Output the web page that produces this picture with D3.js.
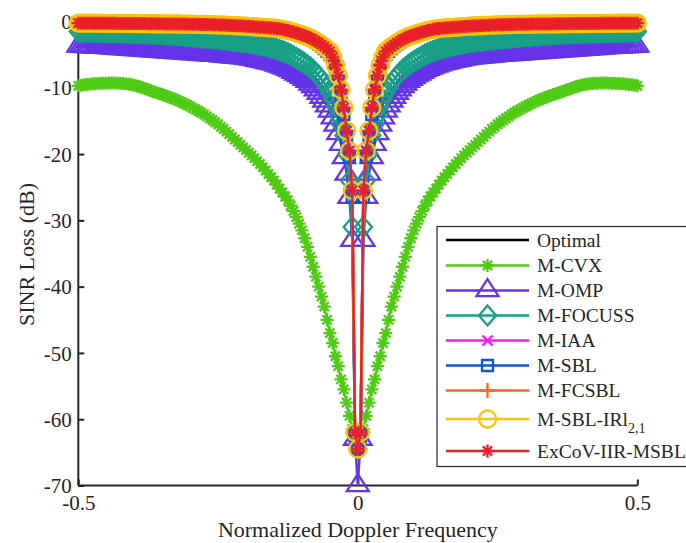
<!DOCTYPE html>
<html>
<head>
<meta charset="utf-8">
<script src="https://cdn.jsdelivr.net/npm/d3@7/dist/d3.min.js"></script>
<style>
  html, body { margin: 0; padding: 0; background: #fff; }
  svg { display: block; }
  text { font-family: "Liberation Serif", "Times New Roman", serif; fill: #262626; }
</style>
</head>
<body>
<svg id="chart" width="686" height="543"></svg>
<script>
// ---------------- DATA ----------------
// Normalized Doppler frequency grid (uniform, -0.5 ... 0.5, step 0.005)
const freqStep = 0.005;
const freqs = d3.range(201).map(i => +(-0.5 + i * freqStep).toFixed(3));

// SINR loss (dB), left half (f = -0.5 ... 0, 101 samples);
// the reference is symmetric about f = 0, so the right half repeats it.
const optimalHalf = [
 -0.25,-0.25,-0.25,-0.25,-0.25,-0.26,-0.26,-0.26,-0.27,-0.27,
 -0.27,-0.28,-0.28,-0.28,-0.29,-0.29,-0.29,-0.30,-0.30,-0.30,
 -0.30,-0.31,-0.31,-0.32,-0.32,-0.33,-0.33,-0.34,-0.34,-0.35,
 -0.35,-0.36,-0.36,-0.37,-0.37,-0.38,-0.38,-0.39,-0.39,-0.40,
 -0.40,-0.41,-0.42,-0.43,-0.44,-0.45,-0.46,-0.47,-0.48,-0.49,
 -0.50,-0.52,-0.54,-0.56,-0.58,-0.60,-0.62,-0.64,-0.66,-0.68,
 -0.70,-0.73,-0.76,-0.79,-0.82,-0.85,-0.88,-0.91,-0.94,-0.97,
 -1.00,-1.05,-1.10,-1.18,-1.27,-1.36,-1.50,-1.60,-1.72,-1.86,
 -2.00,-2.15,-2.30,-2.50,-2.70,-2.95,-3.20,-3.50,-3.80,-4.15,
 -4.50,-5.40,-6.60,-8.20,-10.3,-13.0,-16.5,-19.5,-25.5,-62.0,
 -64.5];
const cvxHalf = [
 -9.70,-9.60,-9.55,-9.50,-9.45,-9.40,-9.38,-9.35,-9.32,-9.30,
 -9.30,-9.28,-9.28,-9.28,-9.30,-9.30,-9.35,-9.40,-9.45,-9.50,
 -9.60,-9.72,-9.85,-10.0,-10.15,-10.3,-10.45,-10.6,-10.75,-10.9,
 -11.0,-11.15,-11.3,-11.5,-11.65,-11.8,-12.0,-12.2,-12.4,-12.6,
 -12.8,-13.05,-13.3,-13.5,-13.75,-14.0,-14.3,-14.6,-14.9,-15.2,
 -15.5,-15.9,-16.2,-16.6,-17.0,-17.4,-17.8,-18.2,-18.6,-19.0,
 -19.4,-19.8,-20.2,-20.6,-21.1,-21.5,-22.0,-22.5,-23.0,-23.5,
 -24.0,-24.6,-25.2,-25.8,-26.4,-27.0,-27.8,-28.6,-29.5,-30.5,
 -31.5,-32.7,-34.0,-35.5,-37.0,-38.5,-40.0,-41.5,-43.0,-45.0,
 -47.0,-48.5,-50.5,-52.0,-54.0,-55.5,-57.5,-59.5,-61.5,-63.0,
 -64.5];
const ompHalf = [
 -3.70,-3.72,-3.74,-3.76,-3.78,-3.80,-3.82,-3.84,-3.86,-3.88,
 -3.90,-3.93,-3.96,-3.99,-4.02,-4.05,-4.08,-4.11,-4.14,-4.17,
 -4.20,-4.23,-4.26,-4.29,-4.32,-4.35,-4.38,-4.41,-4.44,-4.47,
 -4.50,-4.53,-4.56,-4.59,-4.62,-4.65,-4.68,-4.71,-4.74,-4.77,
 -4.80,-4.83,-4.86,-4.89,-4.92,-4.95,-4.98,-5.01,-5.04,-5.07,
 -5.10,-5.14,-5.18,-5.22,-5.26,-5.30,-5.34,-5.38,-5.42,-5.46,
 -5.50,-5.58,-5.66,-5.74,-5.82,-5.90,-6.00,-6.10,-6.20,-6.30,
 -6.40,-6.55,-6.70,-6.85,-7.00,-7.20,-7.40,-7.65,-7.90,-8.15,
 -8.40,-8.70,-9.00,-9.40,-9.80,-10.3,-10.8,-11.4,-12.0,-12.7,
 -13.5,-14.5,-15.6,-16.9,-18.5,-20.5,-23.0,-26.5,-33.0,-63.0,
 -70.0];
const focussHalf = [
 -1.50,-1.51,-1.52,-1.53,-1.54,-1.55,-1.56,-1.57,-1.58,-1.59,
 -1.60,-1.61,-1.62,-1.63,-1.64,-1.65,-1.66,-1.67,-1.68,-1.69,
 -1.70,-1.72,-1.74,-1.76,-1.78,-1.80,-1.82,-1.84,-1.86,-1.88,
 -1.90,-1.93,-1.96,-1.99,-2.02,-2.05,-2.08,-2.11,-2.14,-2.17,
 -2.20,-2.24,-2.28,-2.32,-2.36,-2.40,-2.44,-2.48,-2.52,-2.56,
 -2.60,-2.65,-2.70,-2.75,-2.80,-2.85,-2.90,-2.95,-3.00,-3.05,
 -3.10,-3.18,-3.26,-3.34,-3.42,-3.50,-3.60,-3.70,-3.80,-3.90,
 -4.00,-4.15,-4.30,-4.45,-4.60,-4.80,-5.00,-5.25,-5.50,-5.75,
 -6.00,-6.30,-6.60,-6.95,-7.30,-7.75,-8.20,-8.75,-9.30,-10.0,
 -10.8,-11.7,-12.8,-14.2,-15.6,-17.2,-20.0,-24.0,-31.0,-62.0,
 -64.5];
const sblHalf = [
 -0.28,-0.28,-0.28,-0.28,-0.28,-0.29,-0.29,-0.29,-0.30,-0.30,
 -0.30,-0.31,-0.31,-0.31,-0.32,-0.32,-0.32,-0.33,-0.33,-0.33,
 -0.33,-0.34,-0.34,-0.35,-0.35,-0.36,-0.36,-0.37,-0.37,-0.38,
 -0.38,-0.39,-0.39,-0.40,-0.40,-0.41,-0.41,-0.42,-0.42,-0.43,
 -0.43,-0.44,-0.45,-0.46,-0.47,-0.48,-0.49,-0.50,-0.51,-0.52,
 -0.53,-0.55,-0.57,-0.59,-0.61,-0.63,-0.65,-0.67,-0.69,-0.71,
 -0.73,-0.76,-0.79,-0.82,-0.85,-0.88,-0.91,-0.94,-0.97,-1.00,
 -1.03,-1.08,-1.13,-1.21,-1.30,-1.40,-1.54,-1.65,-1.78,-1.92,
 -2.07,-2.22,-2.38,-2.60,-2.82,-3.08,-3.40,-3.70,-4.10,-4.50,
 -5.00,-6.00,-7.30,-9.00,-11.2,-14.0,-17.5,-20.5,-26.5,-62.5,
 -64.5];

function mirror(half) { return half.concat(half.slice(0, -1).reverse()); }

const optimal  = mirror(optimalHalf);
const mCVX     = mirror(cvxHalf);
const mOMP     = mirror(ompHalf);
const mFOCUSS  = mirror(focussHalf);
const mIAA     = mirror(optimalHalf);   // indistinguishable from optimal in the figure
const mSBL     = mirror(sblHalf);
const mFCSBL   = mirror(optimalHalf);   // indistinguishable from optimal in the figure
const mSBLIRl  = mirror(optimalHalf);
const exCoV    = mirror(optimalHalf);

const seriesNames  = ["Optimal","M-CVX","M-OMP","M-FOCUSS","M-IAA","M-SBL","M-FCSBL","M-SBL-IRl","ExCoV-IIR-MSBL"];
const seriesValues = [optimal, mCVX, mOMP, mFOCUSS, mIAA, mSBL, mFCSBL, mSBLIRl, exCoV];
const seriesColors = ["#000000","#4fcb14","#6433ea","#17a086","#f01cf0","#1153d2","#ff6414","#ffc20e","#e8202a"];
const seriesMarkers = ["none","star","triangle","diamond","x","square","plus","circle","star"];

const xTicks = [-0.5, 0, 0.5];
const yTicks = [0, -10, -20, -30, -40, -50, -60, -70];

// ---------------- LAYOUT ----------------
const svg = d3.select("#chart");
const plot = { left: 78.3, right: 637.3, top: 21.5, bottom: 485.5 };
const x = d3.scaleLinear().domain([-0.5, 0.5]).range([plot.left, plot.right]);
const y = d3.scaleLinear().domain([-70, 0]).range([plot.bottom, plot.top]);
const axisColor = "#262626";
const serif = '"Liberation Serif", "Times New Roman", serif';

function markerPath(type) {
  switch (type) {
    case "star": { const r = 6.5, a = r * 0.707;
      return `M${-r},0L${r},0M0,${-r}L0,${r}M${-a},${-a}L${a},${a}M${-a},${a}L${a},${-a}`; }
    case "triangle": { const w = 11, h = 17;
      return `M0,${-h*2/3}L${w},${h/3}L${-w},${h/3}Z`; }
    case "diamond": { const w = 8.5, h = 10;
      return `M0,${-h}L${w},0L0,${h}L${-w},0Z`; }
    case "x": { const r = 5;
      return `M${-r},${-r}L${r},${r}M${-r},${r}L${r},${-r}`; }
    case "square": { const r = 5.5;
      return `M${-r},${-r}H${r}V${r}H${-r}Z`; }
    case "plus": { const r = 7.5;
      return `M${-r},0H${r}M0,${-r}V${r}`; }
    case "circle": { const r = 8.5;
      return `M${r},0A${r},${r} 0 1,1 ${-r},0A${r},${r} 0 1,1 ${r},0Z`; }
  }
  return "";
}

// ---------------- AXES (drawn below data) ----------------
const axes = svg.append("g");
const yAxis = d3.axisLeft(y).tickValues(yTicks).tickSize(-6).tickFormat(d => String(d));
const yg = axes.append("g").attr("transform", `translate(${plot.left},0)`).call(yAxis);
const xAxis = d3.axisBottom(x).tickValues(xTicks).tickSize(-6).tickFormat(d => String(d));
const xg = axes.append("g").attr("transform", `translate(0,${plot.bottom})`).call(xAxis);
[yg, xg].forEach(g => {
  g.attr("font-family", serif).attr("font-size", 21);
  g.select(".domain").attr("stroke", axisColor).attr("stroke-width", 2);
  g.selectAll(".tick line").attr("stroke", axisColor).attr("stroke-width", 2);
  g.selectAll(".tick text").attr("fill", axisColor).style("font-size", "21px").style("font-family", serif);
});
// MATLAB style: no outer tick stubs on the domain
yg.select(".domain").attr("d", `M0,${plot.top}V${plot.bottom}`);
xg.select(".domain").attr("d", `M${plot.left},0H${plot.right}`);
yg.selectAll(".tick text").attr("x", -6.5).attr("dy", "0.34em");
xg.selectAll(".tick text").attr("y", 24.5).attr("dy", 0);

svg.append("text").attr("x", (plot.left + plot.right) / 2).attr("y", 537)
  .attr("text-anchor", "middle").style("font-size", "22px").text("Normalized Doppler Frequency");
svg.append("text").attr("transform", `translate(33.5,${(plot.top + plot.bottom) / 2 + 1}) rotate(-90)`)
  .attr("text-anchor", "middle").style("font-size", "22px").text("SINR Loss (dB)");

// ---------------- DATA LAYERS ----------------
const line = d3.line().x((d, i) => x(freqs[i])).y(d => y(d));
const dataG = svg.append("g");
seriesValues.forEach((vals, s) => {
  const g = dataG.append("g");
  g.append("path").attr("d", line(vals)).attr("fill", "none")
    .attr("stroke", seriesColors[s]).attr("stroke-width", 2.5).attr("stroke-linejoin", "round");
  if (seriesMarkers[s] !== "none") {
    const p = markerPath(seriesMarkers[s]);
    g.selectAll("path.m").data(vals).join("path").attr("class", "m")
      .attr("transform", (d, i) => `translate(${x(freqs[i])},${y(d)})`)
      .attr("d", p).attr("fill", "none").attr("stroke", seriesColors[s])
      .attr("stroke-width", 2.3).attr("stroke-linejoin", "miter");
  }
});

// ---------------- LEGEND ----------------
const legend = svg.append("g");
const lg = { left: 437, top: 226.5, right: 692, bottom: 466.5 };
legend.append("rect").attr("x", lg.left).attr("y", lg.top)
  .attr("width", lg.right - lg.left).attr("height", lg.bottom - lg.top)
  .attr("fill", "#fff").attr("stroke", axisColor).attr("stroke-width", 1.2);
const rowY = [240, 265.5, 290.5, 315.5, 340.5, 365.5, 390.5, 419, 451];
seriesNames.forEach((name, s) => {
  const ry = rowY[s];
  legend.append("line").attr("x1", 446).attr("x2", 529).attr("y1", ry).attr("y2", ry)
    .attr("stroke", seriesColors[s]).attr("stroke-width", 2.5);
  if (seriesMarkers[s] !== "none") {
    legend.append("path").attr("transform", `translate(487.5,${ry})`).attr("d", markerPath(seriesMarkers[s]))
      .attr("fill", "none").attr("stroke", seriesColors[s]).attr("stroke-width", 2.3);
  }
  const t = legend.append("text").attr("x", 537).attr("y", ry + 6.5).style("font-size", "19.5px");
  if (name === "M-SBL-IRl") {
    t.append("tspan").text("M-SBL-IRl");
    t.append("tspan").attr("dy", 7).style("font-size", "14px").text("2,1");
  } else {
    t.text(name);
  }
});
</script>
</body>
</html>
